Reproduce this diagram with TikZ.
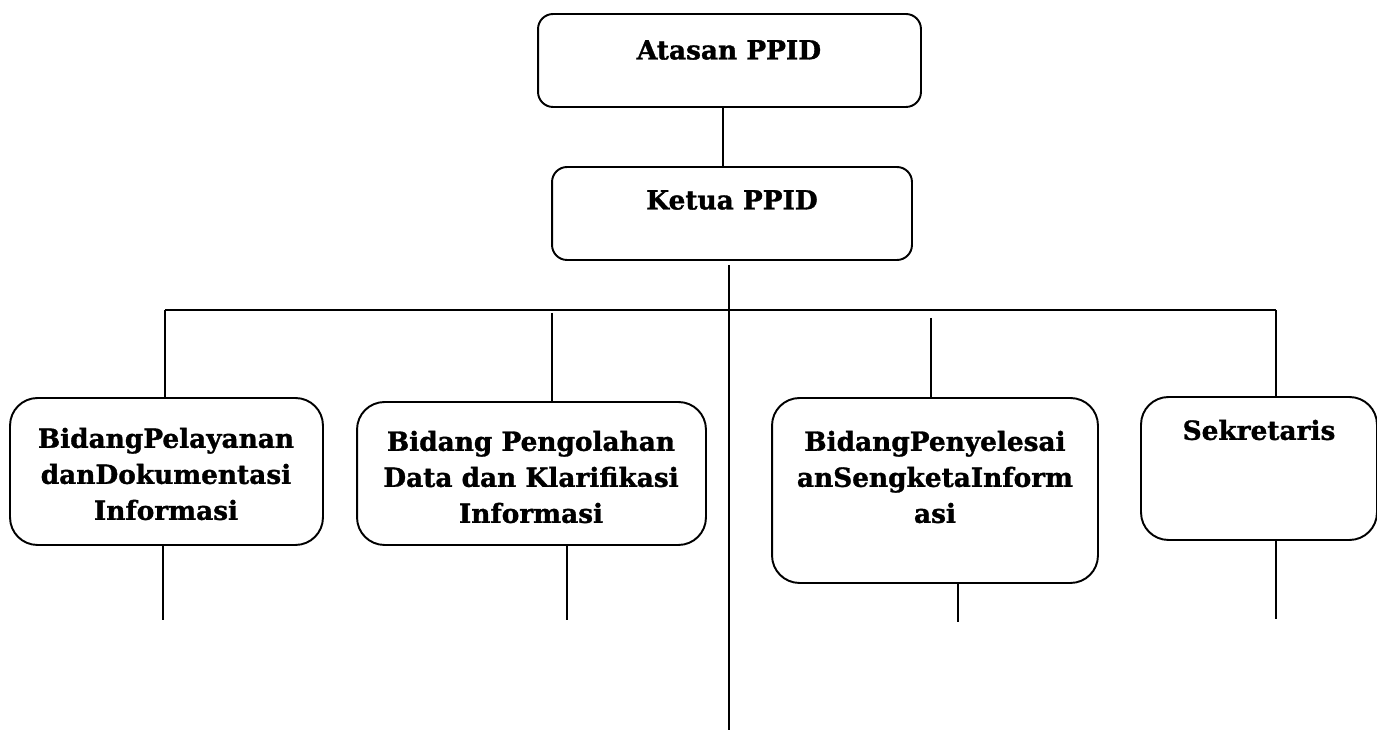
\documentclass[tikz,border=0pt]{standalone}
\usepackage{fontspec}
\setmainfont[BoldFeatures={FakeBold=1.2}]{DejaVu Serif}
\usetikzlibrary{positioning,calc}

\begin{document}
\begin{tikzpicture}[
    x=0.02cm, y=-0.02cm,
    unit/.style={rectangle, draw=black, line width=1.1pt, rounded corners=0.55cm},
    head/.style={rectangle, draw=black, line width=1.1pt, rounded corners=0.3cm},
    lbl/.style={font=\fontsize{15}{20.5}\selectfont\bfseries, align=center, inner sep=0pt},
    link/.style={line width=1.1pt},
]
\useasboundingbox (0,0) rectangle (1377,732);

% Top: Atasan and Ketua
\node[head, minimum width=7.66cm, minimum height=1.86cm] (atasan) at (729.5,60.5) {};
\node[head, minimum width=7.2cm, minimum height=1.86cm] (ketua) at (732,213.5) {};
\node[lbl] (atasan_txt) at (729,50) {Atasan PPID};
\node[lbl] (ketua_txt) at (732,200) {Ketua PPID};

% Bidang boxes
\node[unit, minimum width=6.26cm, minimum height=2.94cm] (pelayanan) at (166.5,471.5) {};
\node[unit, minimum width=6.98cm, minimum height=2.86cm] (pengolahan) at (531.5,473.5) {};
\node[unit, minimum width=6.52cm, minimum height=3.7cm] (sengketa) at (935,490.5) {};
\node[unit, minimum width=4.72cm, minimum height=2.86cm] (sekretaris) at (1259,468.5) {};

\node[lbl] (pelayanan_txt) at (166,474) {BidangPelayanan\\danDokumentasi\\Informasi};
\node[lbl] (pengolahan_txt) at (531,477) {Bidang Pengolahan\\Data dan Klarifikasi\\Informasi};
\node[lbl] (sengketa_txt) at (935,477) {BidangPenyelesai\\anSengketaInform\\asi};
\node[lbl] (sekretaris_txt) at (1259,430) {Sekretaris};

% Bus coordinates
\coordinate (ketua_out) at (729,265);
\coordinate (trunk_end) at (729,730);
\coordinate (bus_l) at (165,310);
\coordinate (bus_r) at (1276,310);
\coordinate (drop2) at (552,313);
\coordinate (drop3) at (931,318);

% Free ends below the boxes
\coordinate (tail1) at (163,620);
\coordinate (tail2) at (567,620);
\coordinate (tail3) at (958,622);
\coordinate (tail4) at (1276,619);

% Lines - Atasan to Ketua
\draw[link] ([xshift=-0.13cm]atasan.south) -- ([xshift=-0.13cm]atasan.south |- ketua.north);

% Lines - Ketua trunk and bus
\draw[link] (ketua_out) -- (trunk_end);
\draw[link] (bus_l) -- (bus_r);

% Lines - bus to boxes
\draw[link] (bus_l) -- (bus_l |- pelayanan.north);
\draw[link] (drop2) -- (drop2 |- pengolahan.north);
\draw[link] (drop3) -- (drop3 |- sengketa.north);
\draw[link] (bus_r) -- (bus_r |- sekretaris.north);

% Lines - below boxes
\draw[link] (tail1 |- pelayanan.south) -- (tail1);
\draw[link] (tail2 |- pengolahan.south) -- (tail2);
\draw[link] (tail3 |- sengketa.south) -- (tail3);
\draw[link] (tail4 |- sekretaris.south) -- (tail4);

\end{tikzpicture}
\end{document}
